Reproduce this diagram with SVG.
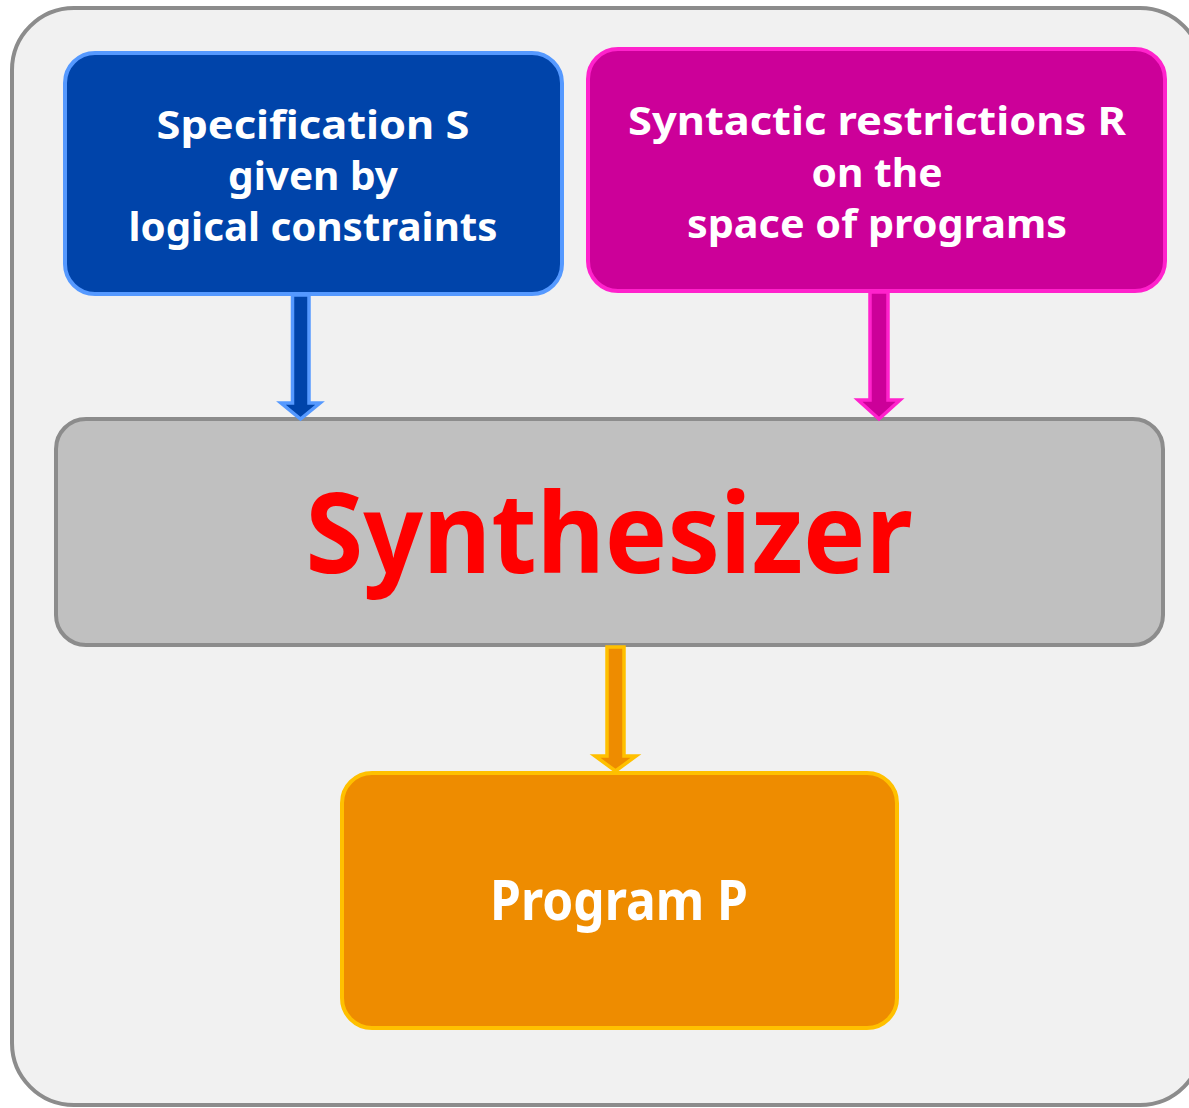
<svg xmlns="http://www.w3.org/2000/svg" width="1189" height="1108" viewBox="0 0 1189 1108">
<style>
.t{font-family:"Comic Sans MS","Noto Sans","DejaVu Sans",sans-serif;font-weight:bold;fill:#ffffff;text-anchor:middle}
.box{stroke-width:4}
</style>
<rect width="1189" height="1108" fill="#ffffff"/>
<g id="frame"><rect x="12" y="8" width="1190" height="1097" rx="62" fill="#f1f1f1" stroke="#8c8c8c" stroke-width="4"/></g>
<g id="spec">
<rect class="box" x="65" y="53" width="497" height="241" rx="30" fill="#0044aa" stroke="#5599ff"/>
<text class="t" x="313" y="139" font-size="40" textLength="313" lengthAdjust="spacingAndGlyphs">Specification S</text>
<text class="t" x="313" y="190" font-size="40" textLength="170" lengthAdjust="spacingAndGlyphs">given by</text>
<text class="t" x="313" y="241" font-size="40" textLength="369" lengthAdjust="spacingAndGlyphs">logical constraints</text>
</g>
<g id="restr">
<rect class="box" x="588" y="49" width="577" height="242" rx="30" fill="#cc0099" stroke="#ff22cc"/>
<text class="t" x="877" y="135" font-size="40" textLength="498" lengthAdjust="spacingAndGlyphs">Syntactic restrictions R</text>
<text class="t" x="877" y="187" font-size="40" textLength="131" lengthAdjust="spacingAndGlyphs">on the</text>
<text class="t" x="877" y="238" font-size="40" textLength="380" lengthAdjust="spacingAndGlyphs">space of programs</text>
</g>
<g id="synth">
<rect class="box" x="56" y="419" width="1107" height="226" rx="30" fill="#c0c0c0" stroke="#8c8c8c"/>
<text class="t" x="609" y="573" font-size="112" style="fill:#ff0000" textLength="607" lengthAdjust="spacingAndGlyphs">Synthesizer</text>
</g>
<g id="prog">
<rect class="box" x="342" y="773" width="555" height="255" rx="30" fill="#ee8c00" stroke="#ffc000"/>
<text class="t" x="619" y="920" font-size="56" textLength="258" lengthAdjust="spacingAndGlyphs">Program P</text>
</g>
<g id="connectors" stroke-width="3.5" stroke-linejoin="miter">
<polygon points="292.5,295 309,295 309,403 320,403 300.5,419 281,403 292.5,403" fill="#0044aa" stroke="#5599ff"/>
<polygon points="870,292 888,292 888,400 900,400 879,419 858,400 870,400" fill="#cc0099" stroke="#ff22cc"/>
<polygon points="607,647 624,647 624,756 636,756 615.5,771 595,756 607,756" fill="#ee8c00" stroke="#ffc000"/>
</g>
</svg>
